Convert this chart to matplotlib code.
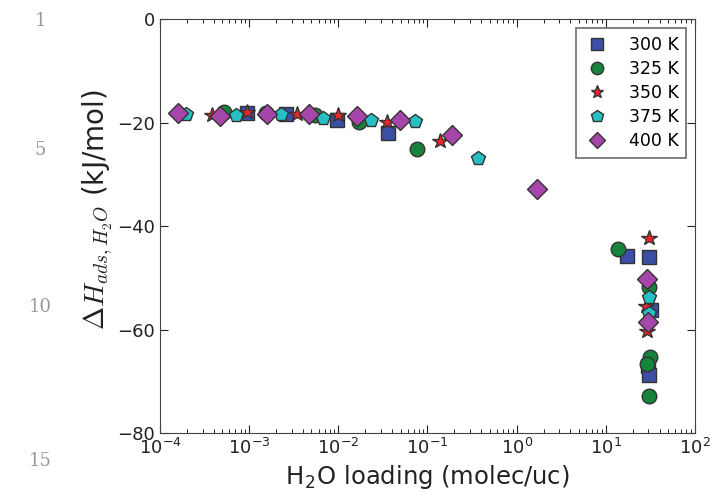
import matplotlib
matplotlib.use('Agg')
import matplotlib.pyplot as plt

# loading (molec/uc) and adsorption enthalpy (kJ/mol)
x_300 = [9.4e-4, 2.6e-3, 9.6e-3, 3.6e-2, 17.2, 30.3, 32.0, 30.0, 30.3]
y_300 = [-18.2, -18.4, -19.4, -22.0, -45.8, -46.0, -56.2, -67.0, -68.8]

x_325 = [5.2e-4, 1.54e-3, 5.5e-3, 1.7e-2, 7.6e-2, 13.6, 30.3, 31.0, 28.6, 30.3]
y_325 = [-18.0, -18.2, -18.6, -19.9, -25.1, -44.4, -51.7, -65.4, -66.6, -72.9]

x_350 = [3.8e-4, 9.4e-4, 3.4e-3, 1.0e-2, 3.5e-2, 0.138, 30.3, 28.1, 29.0]
y_350 = [-18.5, -17.9, -18.4, -18.5, -19.9, -23.6, -42.3, -55.5, -60.3]

x_375 = [1.95e-4, 7.1e-4, 2.3e-3, 6.8e-3, 2.3e-2, 7.2e-2, 0.367, 30.3, 30.8]
y_375 = [-18.3, -18.5, -18.4, -19.1, -19.5, -19.7, -26.9, -53.7, -56.9]

x_400 = [1.6e-4, 4.7e-4, 1.58e-3, 4.7e-3, 1.6e-2, 4.9e-2, 0.187, 1.68, 28.6, 29.5]
y_400 = [-18.2, -18.7, -18.4, -18.4, -18.7, -19.5, -22.3, -32.9, -50.3, -58.6]

labels = ['300 K', '325 K', '350 K', '375 K', '400 K']

plt.rcParams['mathtext.fontset'] = 'cm'
plt.rcParams['xtick.direction'] = 'in'
plt.rcParams['ytick.direction'] = 'in'
plt.rcParams['xtick.top'] = True
plt.rcParams['ytick.right'] = True

fig = plt.figure(figsize=(7.11, 4.92), dpi=100)
ax = fig.add_axes([0.225, 0.12, 0.7525, 0.841])

ax.plot(x_300, y_300, 's', color='#3a4fa5', mec='#333333', ms=10, label=labels[0])
ax.plot(x_325, y_325, 'o', color='#16843a', mec='#333333', ms=10.5, label=labels[1])
ax.plot(x_350, y_350, '*', color='#e8262a', mec='#333333', ms=11.5, label=labels[2])
ax.plot(x_375, y_375, 'p', color='#26c0c4', mec='#333333', ms=10.5, label=labels[3])
ax.plot(x_400, y_400, 'D', color='#a646ab', mec='#333333', ms=10, label=labels[4])

ax.set_xscale('log')
ax.set_xlim(1e-4, 1e2)
ax.set_ylim(-80, 0)
ax.set_yticks([-80, -60, -40, -20, 0])
ax.tick_params(labelsize=13, length=6, colors='#222222', labelcolor='#222222')
ax.tick_params(which='minor', length=3)
for s in ax.spines.values():
    s.set_color('#444444')

ax.set_xlabel('H$_{\\mathregular{2}}$O loading (molec/uc)', fontsize=17.5, color='#222222')
ax.set_ylabel('$\\Delta H_{ads,H_2O}$ (kJ/mol)', fontsize=20, color='#222222')
ax.yaxis.set_label_coords(-0.084, 0.54)

leg = ax.legend(loc='upper right', numpoints=1, fontsize=12.5, fancybox=False,
                borderpad=0.45, labelspacing=0.35, handletextpad=1.0,
                handlelength=1.6, markerscale=0.85, borderaxespad=0.5)
leg.get_frame().set_edgecolor('#555555')
leg.get_frame().set_linewidth(1.3)

# manuscript line numbers in the margin
for n, yy in zip(['1', '5', '10', '15'], [0.958, 0.695, 0.375, 0.062]):
    fig.text(0.057, yy, n, ha='center', va='center', fontsize=13,
             family='DejaVu Serif', color='#999999')

plt.savefig('out.png', dpi=100)
